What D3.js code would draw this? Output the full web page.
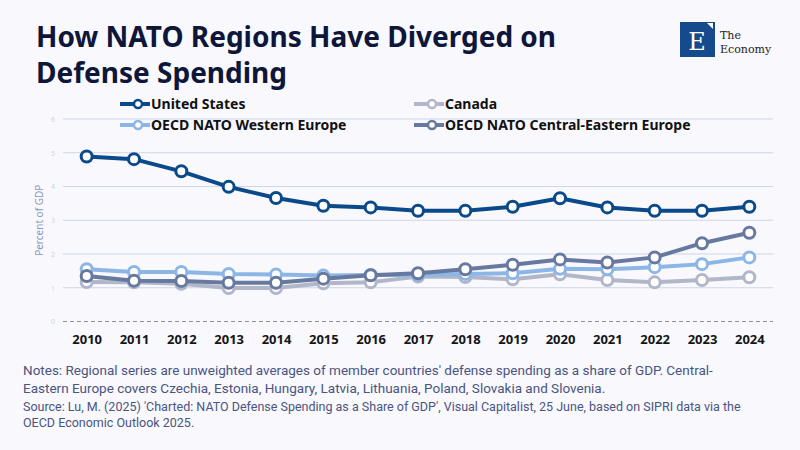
<!DOCTYPE html>
<html>
<head>
<meta charset="utf-8">
<script src="https://cdn.jsdelivr.net/npm/d3@7"></script>
<style>
  body { margin: 0; background: #f8f8fd; }
  svg { display: block; }
</style>
</head>
<body>
<div id="chart"></div>
<script>
// Data
const years = [2010, 2011, 2012, 2013, 2014, 2015, 2016, 2017, 2018, 2019, 2020, 2021, 2022, 2023, 2024];
const unitedStates = [4.89, 4.81, 4.45, 3.99, 3.66, 3.43, 3.38, 3.28, 3.28, 3.40, 3.65, 3.38, 3.28, 3.28, 3.40];
const canada = [1.17, 1.16, 1.12, 0.99, 0.99, 1.13, 1.16, 1.33, 1.32, 1.25, 1.40, 1.23, 1.16, 1.23, 1.31];
const westernEurope = [1.55, 1.47, 1.47, 1.41, 1.39, 1.36, 1.38, 1.38, 1.41, 1.43, 1.56, 1.55, 1.61, 1.70, 1.90];
const centralEastern = [1.35, 1.21, 1.20, 1.15, 1.15, 1.27, 1.37, 1.43, 1.55, 1.68, 1.84, 1.75, 1.90, 2.32, 2.63];
const yTicks = [0, 1, 2, 3, 4, 5, 6];

const seriesList = [
  {name: "Canada", values: canada, color: "#b1b7c9"},
  {name: "OECD NATO Western Europe", values: westernEurope, color: "#8cb6e6"},
  {name: "OECD NATO Central-Eastern Europe", values: centralEastern, color: "#67799f"},
  {name: "United States", values: unitedStates, color: "#0b4a8a"}
];

const W = 800, H = 450;
const plot = {left: 63, right: 773, top: 119, bottom: 321.5};

const svg = d3.select("#chart").append("svg")
  .attr("width", W).attr("height", H)
  .style("font-family", "'Noto Sans', sans-serif");

svg.append("rect").attr("width", W).attr("height", H).attr("fill", "#f8f8fd");

// Title
svg.append("text").attr("x", 36).attr("y", 47)
  .text("How NATO Regions Have Diverged on")
  .style("font-size", "28px").style("font-weight", "700").style("fill", "#0e1639");
svg.append("text").attr("x", 36).attr("y", 83)
  .text("Defense Spending")
  .style("font-size", "28px").style("font-weight", "700").style("fill", "#0e1639");

// Logo
const logo = svg.append("g");
logo.append("rect").attr("x", 680).attr("y", 22).attr("width", 35).attr("height", 35).attr("fill", "#154a8c");
logo.append("text").attr("x", 697).attr("y", 50).attr("text-anchor", "middle")
  .text("E").style("font-family", "'DejaVu Serif', serif").style("font-size", "24px").style("fill", "#fff");
logo.append("path").attr("d", "M707,23 L713,23 L713,29 Z").attr("fill", "#fff");
logo.append("text").attr("x", 720).attr("y", 39).text("The")
  .style("font-family", "'DejaVu Serif', serif").style("font-size", "11px").style("fill", "#222");
logo.append("text").attr("x", 720).attr("y", 53).text("Economy")
  .style("font-family", "'DejaVu Serif', serif").style("font-size", "11px").style("fill", "#222");

// Scales
const x = d3.scalePoint().domain(years).range([plot.left, plot.right]).padding(0.5);
const y = d3.scaleLinear().domain([0, 6]).range([plot.bottom, plot.top]);

// Gridlines
svg.append("g").selectAll("line")
  .data(yTicks)
  .enter().append("line")
  .attr("x1", plot.left).attr("x2", plot.right)
  .attr("y1", d => y(d)).attr("y2", d => y(d))
  .attr("stroke", d => d === 0 ? "#8a8f9c" : "#cfd6e6")
  .attr("stroke-width", 1)
  .attr("stroke-dasharray", d => d === 0 ? "4,3" : null);

// Y axis
const yAxis = svg.append("g")
  .attr("transform", `translate(${plot.left - 8},0)`)
  .call(d3.axisLeft(y).tickValues(yTicks).tickFormat(d3.format("d")).tickSize(0).tickPadding(0));
yAxis.select(".domain").remove();
yAxis.selectAll("text").style("font-size", "7px").style("fill", "#cdd4e4").style("font-family", "'Noto Sans', sans-serif");

svg.append("text")
  .attr("transform", `translate(43,${(plot.top + plot.bottom) / 2}) rotate(-90)`)
  .attr("text-anchor", "middle")
  .text("Percent of GDP")
  .style("font-size", "10px").style("fill", "#8c9ac0");

// X axis
const xAxis = svg.append("g")
  .attr("transform", `translate(0,${plot.bottom})`)
  .call(d3.axisBottom(x).tickSize(0).tickPadding(13));
xAxis.select(".domain").remove();
xAxis.selectAll("text").style("font-size", "13px").style("font-weight", "700").style("fill", "#151515")
  .style("font-family", "'Noto Sans', sans-serif");

// Lines and markers
const line = d3.line().x((d, i) => x(years[i])).y(d => y(d));

seriesList.forEach(s => {
  const g = svg.append("g");
  g.append("path")
    .datum(s.values)
    .attr("d", line)
    .attr("fill", "none")
    .attr("stroke", s.color)
    .attr("stroke-width", 4)
    .attr("stroke-linejoin", "round");
  g.selectAll("circle")
    .data(s.values)
    .enter().append("circle")
    .attr("cx", (d, i) => x(years[i]))
    .attr("cy", d => y(d))
    .attr("r", 5.5)
    .attr("fill", "#fff")
    .attr("stroke", s.color)
    .attr("stroke-width", 3);
});

// Legend
const legendItems = [
  {s: seriesList[3], x: 120, y: 104},
  {s: seriesList[1], x: 120, y: 125},
  {s: seriesList[0], x: 414, y: 104},
  {s: seriesList[2], x: 414, y: 125}
];
const leg = svg.append("g").selectAll("g")
  .data(legendItems)
  .enter().append("g")
  .attr("transform", d => `translate(${d.x},${d.y})`);
leg.append("line").attr("x1", 0).attr("x2", 30).attr("y1", 0).attr("y2", 0)
  .attr("stroke", d => d.s.color).attr("stroke-width", 4);
leg.append("circle").attr("cx", 18).attr("cy", 0).attr("r", 4)
  .attr("fill", "#fff").attr("stroke", d => d.s.color).attr("stroke-width", 2.5);
leg.append("text").attr("x", 31).attr("y", 0).attr("dy", "0.35em")
  .text(d => d.s.name)
  .style("font-size", "14px").style("font-weight", "700").style("fill", "#111");

// Notes
const notes = [
  {t: "Notes: Regional series are unweighted averages of member countries' defense spending as a share of GDP. Central-", y: 375, size: 13.5},
  {t: "Eastern Europe covers Czechia, Estonia, Hungary, Latvia, Lithuania, Poland, Slovakia and Slovenia.", y: 393, size: 13.5},
  {t: "Source: Lu, M. (2025) 'Charted: NATO Defense Spending as a Share of GDP', Visual Capitalist, 25 June, based on SIPRI data via the", y: 411, size: 12.5},
  {t: "OECD Economic Outlook 2025.", y: 427, size: 12.5}
];
svg.append("g").selectAll("text")
  .data(notes)
  .enter().append("text")
  .attr("x", 23).attr("y", d => d.y)
  .text(d => d.t)
  .style("font-family", "'Roboto', sans-serif")
  .style("font-size", d => d.size + "px")
  .style("fill", "#4a5580");
</script>
</body>
</html>
